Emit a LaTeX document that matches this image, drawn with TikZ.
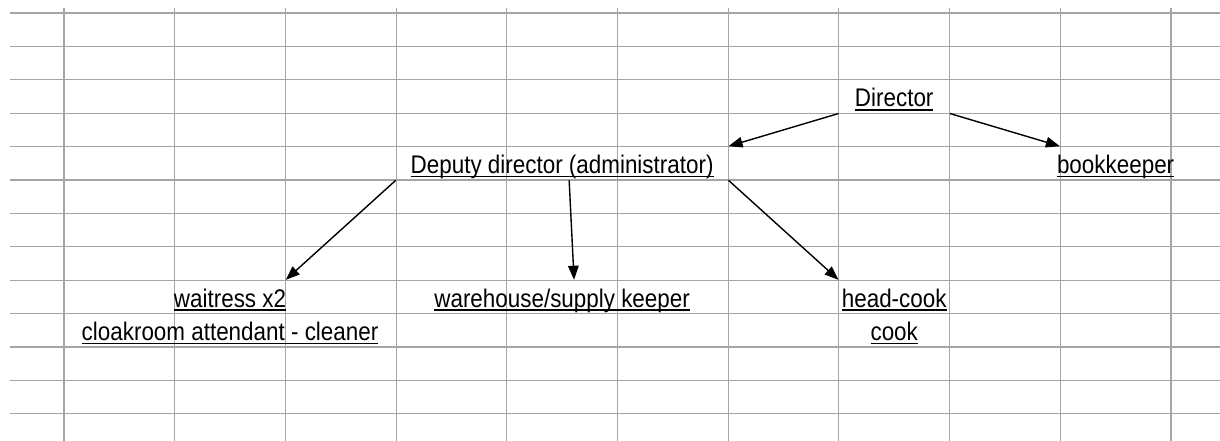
\documentclass[tikz,border=0pt]{standalone}
\usepackage{fontspec}
\setmainfont{Liberation Sans}[FakeStretch=0.88]
\usepackage{tikz}
\usepackage{xcolor}
\usetikzlibrary{arrows.meta}
\definecolor{gridgray}{RGB}{165,165,165}
\newsavebox{\cellbox}
\newcommand{\lineUnder}[1]{\sbox\cellbox{#1}\makebox[0pt]{\rlap{\rule[-2.2pt]{\wd\cellbox}{0.9pt}}\usebox\cellbox}}
\tikzset{
pointTo/.style={-{Triangle[length=8pt,width=6pt]}, line width=0.8pt}}

\begin{document}
\begin{tikzpicture}[x=2.214cm, y=-0.668cm]
		\tikzset{cell/.style = {font=\fontsize{14.5}{17}\selectfont, inner sep=0pt, minimum width=2.214cm, text height=0.538cm, text depth=0.13cm}}
		\tikzset{wide/.style = {cell, minimum width=6.642cm}}
		\tikzset{gridline/.style = {gridgray, line width=0.6pt}}

		\useasboundingbox (-0.578,-0.389) rectangle (10.443,12.814);

		% sheet
		\foreach \x in {0,...,10} \draw[gridline] (\x,-0.15) -- (\x,12.814);
		\foreach \y in {0,...,12} \draw[gridline] (-0.488,\y) -- (10.443,\y);

		\node[cell] (D) at (7.5,2.5) {\lineUnder{Director}};
		\node[wide] (A) at (4.5,4.5) {\lineUnder{Deputy director (administrator)}};
		\node[cell] (B) at (9.5,4.5) {\lineUnder{bookkeeper}};
		\node[cell] (W_1) at (1.5,8.5) {\lineUnder{waitress x2}};
		\node[cell] (W_2) at (1.5,9.5) {\lineUnder{cloakroom attendant - cleaner}};
		\node[wide] (S) at (4.5,8.5) {\lineUnder{warehouse/supply keeper}};
		\node[cell] (K_1) at (7.5,8.5) {\lineUnder{head-cook}};
		\node[cell] (K_2) at (7.5,9.5) {\lineUnder{cook}};

		\draw[pointTo] (D.south west) to (A.north east);
		\draw[pointTo] (D.south east) to (B.north west);

		\draw[pointTo] (A.south west) to (W_1.north east);
		\draw[pointTo] ([xshift=4pt]A.south) to ([xshift=6.8pt]S.north);
		\draw[pointTo] (A.south east) to (K_1.north west);

	\end{tikzpicture}
\end{document}
